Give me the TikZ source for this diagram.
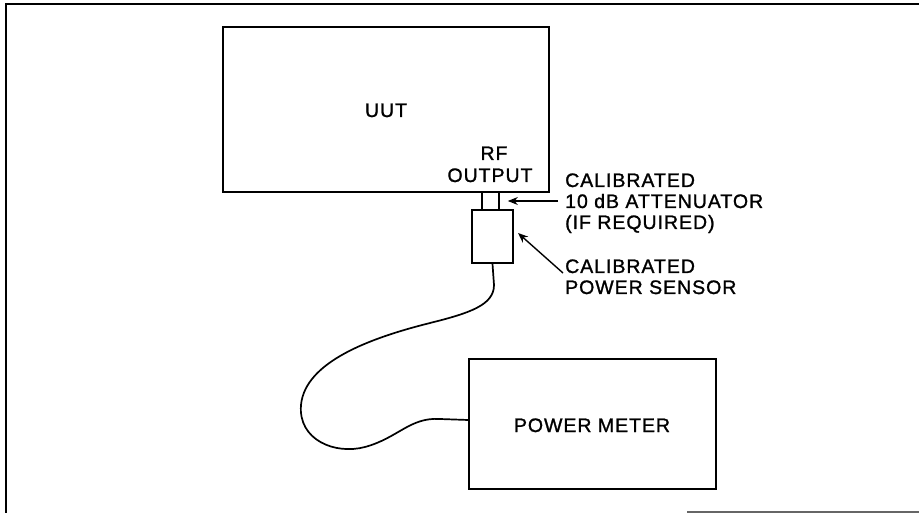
\documentclass[tikz,border=0pt]{standalone}
\usepackage{fontspec}
\setmainfont{Liberation Sans}[LetterSpace=5,FakeBold=1.2]
\usetikzlibrary{arrows.meta}
\begin{document}
\begin{tikzpicture}[x=1pt,y=-1pt,
  box/.style={draw,line width=1.7pt,inner sep=0pt,minimum width=#1},
  lbl/.style={anchor=base west,inner sep=0pt,font=\fontsize{19.5}{21}\selectfont},
  clbl/.style={anchor=base,inner sep=0pt,font=\fontsize{19.5}{21}\selectfont},
  arr/.style={line width=1.4pt,-{Stealth[length=10pt,width=8pt]}},
  cable/.style={line width=1.7pt},
  frameline/.style={line width=1.7pt}]
\useasboundingbox (0,0) rectangle (919,513);
% frame
\draw[frameline] (919,4) -- (6,4) -- (6,513);
\draw[frameline,black!60] (687,512) -- (919,512);
% boxes
\node[box=326pt,minimum height=165pt] (uut) at (386,109.5) {};
\node[box=17pt,minimum height=18pt] (att) at (490.5,201) {};
\node[box=41pt,minimum height=53pt] (sensor) at (492.5,236.5) {};
\node[box=247pt,minimum height=130pt] (pm) at (592.5,424) {};
% labels
\node[clbl] (uutlbl) at (386,117) {UUT};
\node[clbl] (rf) at (494,160) {RF};
\node[clbl] (rfout) at (490,182) {OUTPUT};
\node[lbl] (c1) at (565,187) {CALIBRATED};
\node[lbl] (c2) at (565,208) {10 dB ATTENUATOR};
\node[lbl] (c3) at (565,229) {(IF REQUIRED)};
\node[lbl] (s1) at (565,273) {CALIBRATED};
\node[lbl] (s2) at (565,294) {POWER SENSOR};
\node[clbl] (pmlbl) at (592,432) {POWER METER};
% arrows
\coordinate (a1) at (558,201);
\coordinate (a2) at (563,273);
\coordinate (t2) at (518,233);
\draw[arr] (a1) -- ([xshift=8pt]att.east);
\draw[arr] (a2) -- (t2);
% cable
\draw[cable] (sensor.south) -- (494,285)
  .. controls (494,305) and (470,313) .. (430,323)
  .. controls (370,338) and (305,362) .. (301,405)
  .. controls (298,440) and (335,455) .. (365,447)
  .. controls (398,438) and (410,417) .. (440,419)
  -- (pm.west |- 0,420);
\end{tikzpicture}
\end{document}
